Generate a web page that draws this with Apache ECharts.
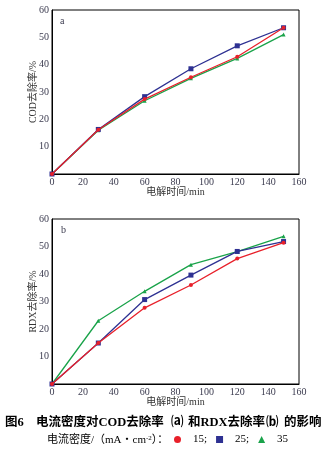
<!DOCTYPE html>
<html><head><meta charset="utf-8">
<script src="https://cdn.jsdelivr.net/npm/echarts@6/dist/echarts.min.js"></script>
<style>html,body{margin:0;padding:0;background:#fff}#c{width:334px;height:449px}</style>
</head><body><div id="c"></div>
<script>
const times = [0, 30, 60, 90, 120, 150];
const seriesNames = ['15', '25', '35'];
const codJ15 = [0, 16.2, 27.4, 35.4, 42.9, 53.5];
const codJ25 = [0, 16.3, 28.3, 38.5, 46.9, 53.5];
const codJ35 = [0, 16.0, 26.8, 35.0, 42.3, 51.0];
const rdxJ15 = [0, 14.9, 27.7, 36.0, 45.6, 51.4];
const rdxJ25 = [0, 14.9, 30.7, 39.6, 48.2, 51.8];
const rdxJ35 = [0, 23.0, 33.7, 43.4, 48.1, 53.7];
const xTicks = [0, 20, 40, 60, 80, 100, 120, 140, 160];
const yTicks = [10, 20, 30, 40, 50, 60];

const colors = ['#e8202a', '#2e3192', '#1aa34a'];
const symbols = ['circle', 'rect', 'triangle'];
const sizes = [4, 5, 4];
const FONT = '"Liberation Serif","Noto Sans CJK SC",serif';
const CAP = 'bold 12.5px "Liberation Serif","Noto Sans CJK SC"';
const pair = (xs, ys) => xs.map((x, i) => [x, ys[i]]);

function xAxis(gi) {
  return {
    type: 'value', gridIndex: gi, min: 0, max: 160, interval: 20,
    name: '电解时间/min', nameLocation: 'middle', nameGap: 13, nameMoveOverlap: false,
    nameTextStyle: { fontFamily: FONT, fontSize: 10, color: '#333' },
    axisLine: { lineStyle: { color: '#000', width: 1 } },
    axisTick: { show: false }, splitLine: { show: false },
    axisLabel: { fontFamily: FONT, fontSize: 10, color: '#3b3b4f', margin: 3,
      formatter: v => xTicks.includes(v) ? String(v) : '' }
  };
}
function yAxis(gi, name) {
  return {
    type: 'value', gridIndex: gi, min: 0, max: 60, interval: 10,
    name: name, nameLocation: 'middle', nameGap: 14, nameMoveOverlap: false,
    nameTextStyle: { fontFamily: FONT, fontSize: 10, color: '#333' },
    axisLine: { lineStyle: { color: '#000', width: 1 } },
    axisTick: { show: false }, splitLine: { show: false },
    axisLabel: { fontFamily: FONT, fontSize: 10, color: '#3b3b4f', margin: 3,
      formatter: v => yTicks.includes(v) ? String(v) : '' }
  };
}
function mk(gi, idx, ys) {
  return {
    type: 'line', name: seriesNames[idx], xAxisIndex: gi, yAxisIndex: gi,
    data: pair(times, ys), symbol: symbols[idx], symbolSize: sizes[idx],
    showSymbol: true,
    lineStyle: { color: colors[idx], width: 1.3 },
    itemStyle: { color: colors[idx] }, z: idx === 0 ? 4 : 3
  };
}

const chart = echarts.init(document.getElementById('c'), null, { renderer: 'canvas' });
chart.setOption({
  animation: false,
  backgroundColor: '#fff',
  grid: [
    { left: 52, top: 10, width: 247, height: 164, show: true, borderColor: '#000', borderWidth: 1 },
    { left: 52, top: 219, width: 247, height: 165, show: true, borderColor: '#000', borderWidth: 1 }
  ],
  xAxis: [xAxis(0), xAxis(1)],
  yAxis: [yAxis(0, 'COD去除率/%'), yAxis(1, 'RDX去除率/%')],
  legend: {
    left: 174, top: 434, padding: 0, itemWidth: 7, itemHeight: 7, itemGap: 9,
    data: [{ name: '15', icon: 'circle' }, { name: '25', icon: 'rect' }, { name: '35', icon: 'triangle' }],
    formatter: n => n === '35' ? n : n + ';',
    textStyle: { fontFamily: FONT, fontSize: 11, color: '#000', padding: [0, 0, 0, 7] }
  },
  graphic: [
    { type: 'text', left: 60, top: 16, style: { text: 'a', font: '10px "Liberation Serif"', fill: '#3b3b4f' } },
    { type: 'text', left: 61, top: 225, style: { text: 'b', font: '10px "Liberation Serif"', fill: '#3b3b4f' } },
    { type: 'text', left: 5, top: 417, style: { text: '图6', font: CAP, fill: '#000' } },
    { type: 'text', left: 36, top: 417, style: { text: '电流密度对COD去除率', font: CAP, fill: '#000' } },
    { type: 'text', left: 171, top: 417, style: { text: '⒜', font: CAP, fill: '#000' } },
    { type: 'text', left: 188, top: 417, style: { text: '和RDX去除率', font: CAP, fill: '#000' } },
    { type: 'text', left: 266, top: 417, style: { text: '⒝', font: CAP, fill: '#000' } },
    { type: 'text', left: 284, top: 417, style: { text: '的影响', font: CAP, fill: '#000' } },
    { type: 'text', left: 47, top: 435, style: { rich: { a: { fontFamily: FONT, fontSize: 11, fill: '#000' }, s: { fontFamily: FONT, fontSize: 7, fill: '#000', verticalAlign: 'top' } }, text: '{a|电流密度/（mA・cm}{s|-2}{a|）：}' } }
  ],
  series: [
    mk(0, 2, codJ35), mk(0, 1, codJ25), mk(0, 0, codJ15),
    mk(1, 2, rdxJ35), mk(1, 1, rdxJ25), mk(1, 0, rdxJ15)
  ]
});
</script></body></html>
